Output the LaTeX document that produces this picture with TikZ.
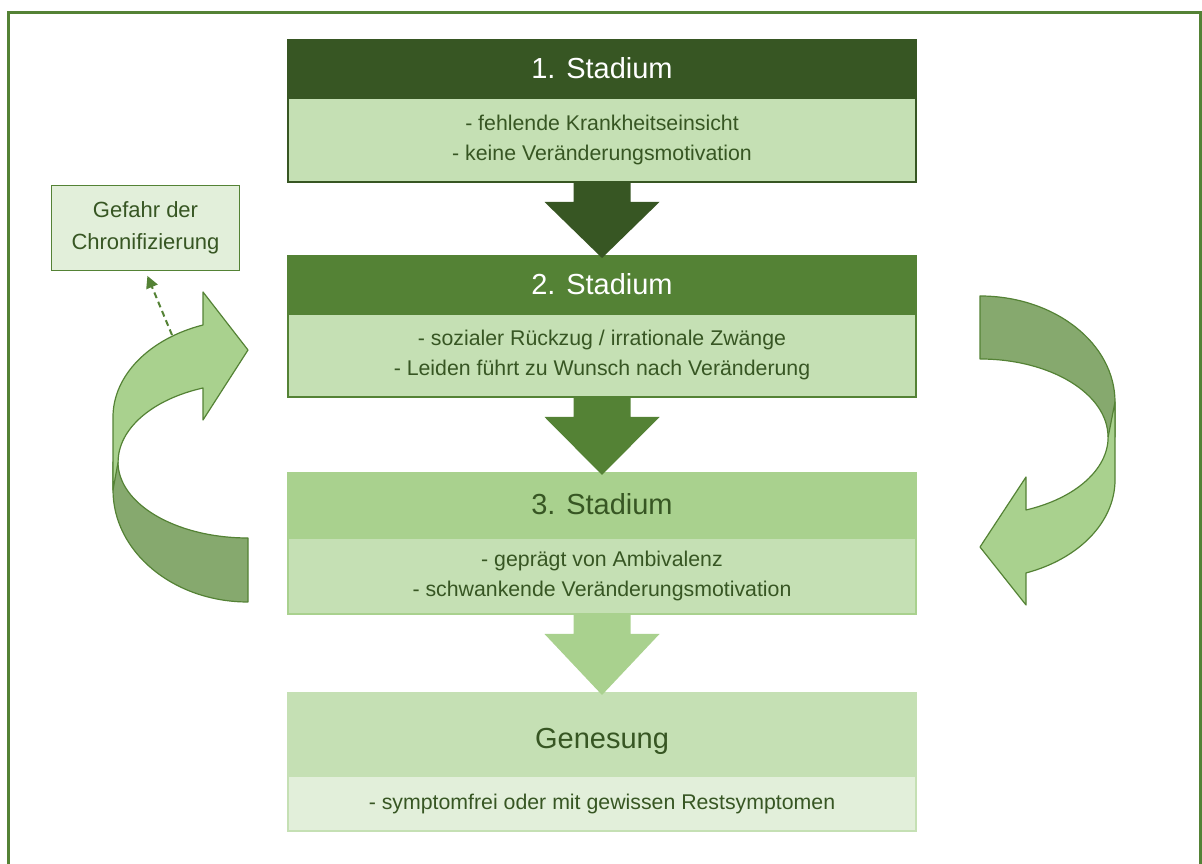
\documentclass[tikz,border=0pt]{standalone}
\usepackage{fontspec}
\setmainfont{Liberation Sans}
\usepackage{tikz}
\usetikzlibrary{positioning,calc,arrows.meta}

\definecolor{gdark}{HTML}{375623}
\definecolor{gmid}{HTML}{548235}
\definecolor{glight}{HTML}{A9D18E}
\definecolor{gpale}{HTML}{C5E0B4}
\definecolor{gfaint}{HTML}{E2EFDA}
\definecolor{gshade}{HTML}{86A96E}

\tikzset{
  stagehead/.style={minimum width=630pt, inner sep=0pt, outer sep=0pt,
    font=\fontsize{29}{35}\selectfont},
  stagebody/.style={draw, line width=2pt, minimum width=628pt, inner sep=0pt,
    outer sep=0pt, align=center, text=gdark, fill=gpale,
    font=\fontsize{21.3}{30}\selectfont},
  loopband/.style={draw=gmid, line width=1.2pt, line join=round}
}

% block arrow between two stages
\newcommand{\stagearrow}[3]{%
  \fill[#3] ($(#1.south)+(-28.5,0)$) -- ($(#1.south)+(28.5,0)$)
    -- ($(#1.south)+(28.5,-20)$) -- ($(#1.south)+(57.5,-20)$)
    -- ($(#2.north)+(0,-3)$)
    -- ($(#1.south)+(-57.5,-20)$) -- ($(#1.south)+(-28.5,-20)$) -- cycle;}

\begin{document}
\begin{tikzpicture}[x=1pt,y=1pt]
  \useasboundingbox (0,0) rectangle (1202,864);
  \draw[gmid, line width=3pt] (8.5,-5) -- (8.5,851.5) -- (1200.5,851.5) -- (1200.5,-5);

  % stages
  \node[stagehead, fill=gdark, text=white, minimum height=58pt] (h1) at (602,796) {1. Stadium};
  \node[stagebody, draw=gdark, minimum height=84pt, below=1pt of h1] (b1)
    {- fehlende Krankheitseinsicht\\- keine Veränderungsmotivation};

  \node[stagehead, fill=gmid, text=white, minimum height=58pt] (h2) at (602,580) {2. Stadium};
  \node[stagebody, draw=gmid, minimum height=83pt, below=1pt of h2] (b2)
    {- sozialer Rückzug / irrationale Zwänge\\- Leiden führt zu Wunsch nach Veränderung};

  \node[stagehead, fill=glight, text=gdark, minimum height=65pt] (h3) at (602,359.5) {3. Stadium};
  \node[stagebody, draw=glight, minimum height=76pt, below=1pt of h3] (b3)
    {- geprägt von Ambivalenz\\- schwankende Veränderungsmotivation};

  \node[stagehead, fill=gpale, text=gdark, minimum height=83pt,
    text height=37pt, text depth=6pt] (h4) at (602,130.5) {Genesung};
  \node[stagebody, draw=gpale, fill=gfaint, minimum height=55pt, below=1pt of h4] (b4)
    {- symptomfrei oder mit gewissen Restsymptomen};

  \stagearrow{b1}{h2}{gdark}
  \stagearrow{b2}{h3}{gmid}
  \stagearrow{b3}{h4}{glight}

  % left loop
  \filldraw[loopband, fill=gshade] (248,262)
    arc[start angle=270, end angle=180, x radius=135, y radius=112]
    -- (113,402) -- (118,402)
    arc[start angle=180, end angle=270, x radius=130, y radius=76] -- cycle;
  \filldraw[loopband, fill=glight] (113,374) -- (113,447)
    arc[start angle=180, end angle=109.47, x radius=135, y radius=97.6]
    -- (203,572) -- (248,514) -- (203,444) -- (203,476)
    arc[start angle=110.3, end angle=180, x radius=130, y radius=78.9] -- cycle;

  % right loop
  \filldraw[loopband, fill=gshade] (980,568)
    arc[start angle=90, end angle=0, x radius=135, y radius=106]
    -- (1115,427) -- (1108,427)
    arc[start angle=0, end angle=90, x radius=128, y radius=78] -- cycle;
  \filldraw[loopband, fill=glight] (1115,462) -- (1115,384)
    arc[start angle=0, end angle=-70.1, x radius=135, y radius=98.9]
    -- (1026,259) -- (980,317) -- (1026,387) -- (1026,354)
    arc[start angle=-69, end angle=0, x radius=128, y radius=78.2] -- cycle;

  \node[draw=gmid, fill=gfaint, line width=1.5pt, minimum width=188pt, minimum height=85pt,
    inner sep=0pt, align=center, text=gdark, font=\fontsize{22}{32}\selectfont]
    (gefahr) at (145.5,636) {Gefahr der\\Chronifizierung};
  \coordinate (loopstart) at (172,529);
  \draw[gmid, line width=2pt, dash pattern=on 6pt off 4pt,
    -{Triangle[length=12pt,width=12pt]}, shorten >=5pt] (loopstart) -- (gefahr.south);
\end{tikzpicture}
\end{document}
